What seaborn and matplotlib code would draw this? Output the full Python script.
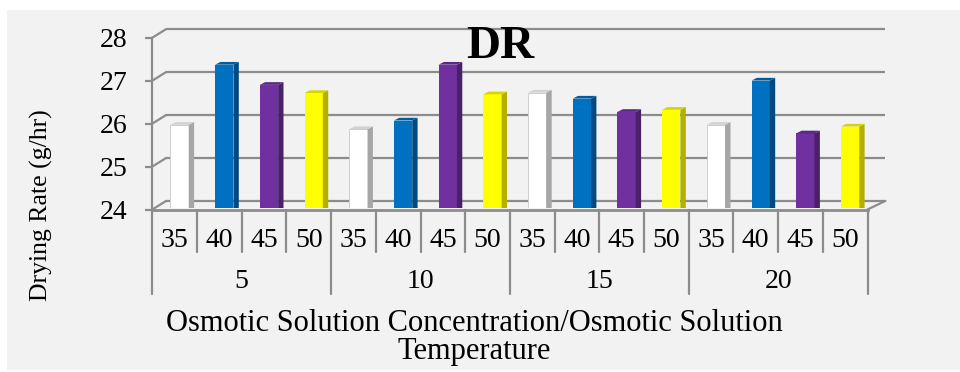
import numpy as np
import pandas as pd
import matplotlib
matplotlib.use("Agg")
import matplotlib.pyplot as plt
import matplotlib.transforms as mtransforms
from matplotlib.patches import Rectangle, Polygon
import seaborn as sns

# Osmotic solution concentration groups and temperatures within each group
concentrations = ["5", "10", "15", "20"]
temperatures = ["35", "40", "45", "50"]

# Drying rate (g/hr) per temperature, one list per concentration
drying_rate_5 = [25.93, 27.33, 26.86, 26.67]
drying_rate_10 = [25.83, 26.03, 27.33, 26.64]
drying_rate_15 = [26.68, 26.54, 26.23, 26.28]
drying_rate_20 = [25.93, 26.96, 25.73, 25.89]
y_ticks = [24, 25, 26, 27, 28]

title_text = "DR"
y_title = "Drying Rate (g/hr)"
x_title = "Osmotic Solution Concentration/Osmotic Solution\nTemperature"

# Face colours of the pseudo-3D columns
front_colors = {"35": "#ffffff", "40": "#0070c0", "45": "#7030a0", "50": "#ffff00"}
side_colors = {"35": "#a6a6a6", "40": "#004a80", "45": "#4a2069", "50": "#b3b000"}
top_colors = {"35": "#d2d2d2", "40": "#005c9e", "45": "#5b2884", "50": "#d8d400"}
edge_colors = {"35": "#c8c8c8", "40": "none", "45": "none", "50": "none"}

rows = []
for conc, vals in zip(concentrations,
                      [drying_rate_5, drying_rate_10, drying_rate_15, drying_rate_20]):
    for temp, val in zip(temperatures, vals):
        rows.append({"conc": conc, "temp": temp, "key": f"{conc}/{temp}", "dr": val})
df = pd.DataFrame(rows)
n = len(df)

sns.set_style("white")
plt.rcParams["font.family"] = ["Liberation Serif", "DejaVu Serif"]
plt.rcParams["text.color"] = "black"
plt.rcParams["ytick.color"] = "black"

W, H = 960, 372
fig = plt.figure(figsize=(W / 100, H / 100), dpi=100, facecolor="white")
fig.patches.append(Rectangle((7 / W, 2 / H), 953 / W, 360 / H,
                             transform=fig.transFigure, facecolor="#f2f2f2",
                             edgecolor="none", zorder=-10))

ax = fig.add_axes([152.3 / W, (H - 209.5) / H, 715.2 / W, 171.8 / H])
ax.patch.set_visible(False)

sns.barplot(data=df, x="key", y="dr", hue="temp", hue_order=temperatures,
            palette=front_colors, dodge=False, width=0.41, saturation=1,
            errorbar=None, legend=False, linewidth=0, ax=ax)

ax.set_xlim(-0.5, n - 0.5)
ax.set_ylim(y_ticks[0], y_ticks[-1])
ax.set_xlabel("")
ax.set_ylabel("")
ax.set_xticks([])
ax.set_yticks(y_ticks)

grid = "#8c8c8c"
lw = 1.6
for s in ["top", "right"]:
    ax.spines[s].set_visible(False)
ax.spines["left"].set_color(grid)
ax.spines["left"].set_linewidth(lw)
ax.spines["bottom"].set_color(grid)
ax.spines["bottom"].set_linewidth(2.0)
ax.tick_params(axis="y", length=5, width=lw, color=grid, pad=13,
               labelsize=20, labelcolor="black", left=True)

# Back wall and floor of the 3D box
bdx_l, bdx_r, bdy = 0.31, 0.40, 0.2
for v in y_ticks:
    ax.plot([-0.5 + bdx_l, n - 0.5 + bdx_r], [v + bdy, v + bdy], color=grid,
            lw=lw, zorder=0.5, clip_on=False, solid_capstyle="butt")
    ax.plot([-0.5, -0.5 + bdx_l], [v, v + bdy], color=grid, lw=lw,
            zorder=0.5, clip_on=False)
ax.plot([n - 0.5, n - 0.5 + bdx_r], [y_ticks[0], y_ticks[0] + bdy], color=grid,
        lw=lw, zorder=0.5, clip_on=False)

# Give each column a side and a top face
bar_shift = mtransforms.Affine2D().translate(0.11, 0.042) + ax.transData
floor_clip = Rectangle((-1, y_ticks[0]), n + 2, 10, transform=bar_shift)
ddx, ddy = 0.12, 0.063
for temp, cont in zip(temperatures, ax.containers):
    for p in cont.patches:
        p.set_transform(bar_shift)
        p.set_clip_path(floor_clip)
        p.set_edgecolor(edge_colors[temp])
        p.set_linewidth(0.6 if edge_colors[temp] != "none" else 0)
        x0, y0 = p.get_x(), p.get_y()
        x1, top = x0 + p.get_width(), y0 + p.get_height()
        side = Polygon([(x1, y0), (x1, top), (x1 + ddx, top + ddy), (x1 + ddx, y0 + ddy)],
                       closed=True, facecolor=side_colors[temp], edgecolor="none",
                       transform=bar_shift, zorder=p.get_zorder())
        ax.add_patch(side)
        side.set_clip_path(floor_clip)
        cap = Polygon([(x0, top), (x1, top), (x1 + ddx, top + ddy), (x0 + ddx, top + ddy)],
                      closed=True, facecolor=top_colors[temp], edgecolor="none",
                      transform=bar_shift, zorder=p.get_zorder(), clip_on=False)
        ax.add_patch(cap)

# Two-level category axis below the floor
lbl = mtransforms.blended_transform_factory(ax.transData, fig.transFigure)
top_y, inner_y, outer_y = (H - 210) / H, (H - 252) / H, (H - 294) / H
per = len(temperatures)
for b in np.arange(n + 1) - 0.5:
    bottom = outer_y if int(b + 0.5) % per == 0 else inner_y
    ax.plot([b, b], [top_y, bottom], color=grid, lw=lw, transform=lbl, clip_on=False)
for i, row in df.iterrows():
    ax.text(i, (H - 246.7) / H, row["temp"], transform=lbl, ha="center",
            va="baseline", fontsize=20)
for g, conc in enumerate(concentrations):
    ax.text(g * per + (per - 1) / 2, (H - 288.5) / H, conc, transform=lbl,
            ha="center", va="baseline", fontsize=20)

ax.set_title(title_text, x=0.486, y=0.88, pad=0, fontsize=34, fontweight="bold",
             va="baseline", color="black")
fig.text(41.7 / W, (H - 205) / H, y_title, rotation=90, ha="center", va="center",
         fontsize=18.5)
# baseline anchor refers to the last line of the two-line title
fig.text(474 / W, (H - 359) / H, x_title, ha="center", va="baseline",
         multialignment="center", fontsize=22, linespacing=0.95)

fig.savefig("out.png", dpi=100, facecolor="white")
